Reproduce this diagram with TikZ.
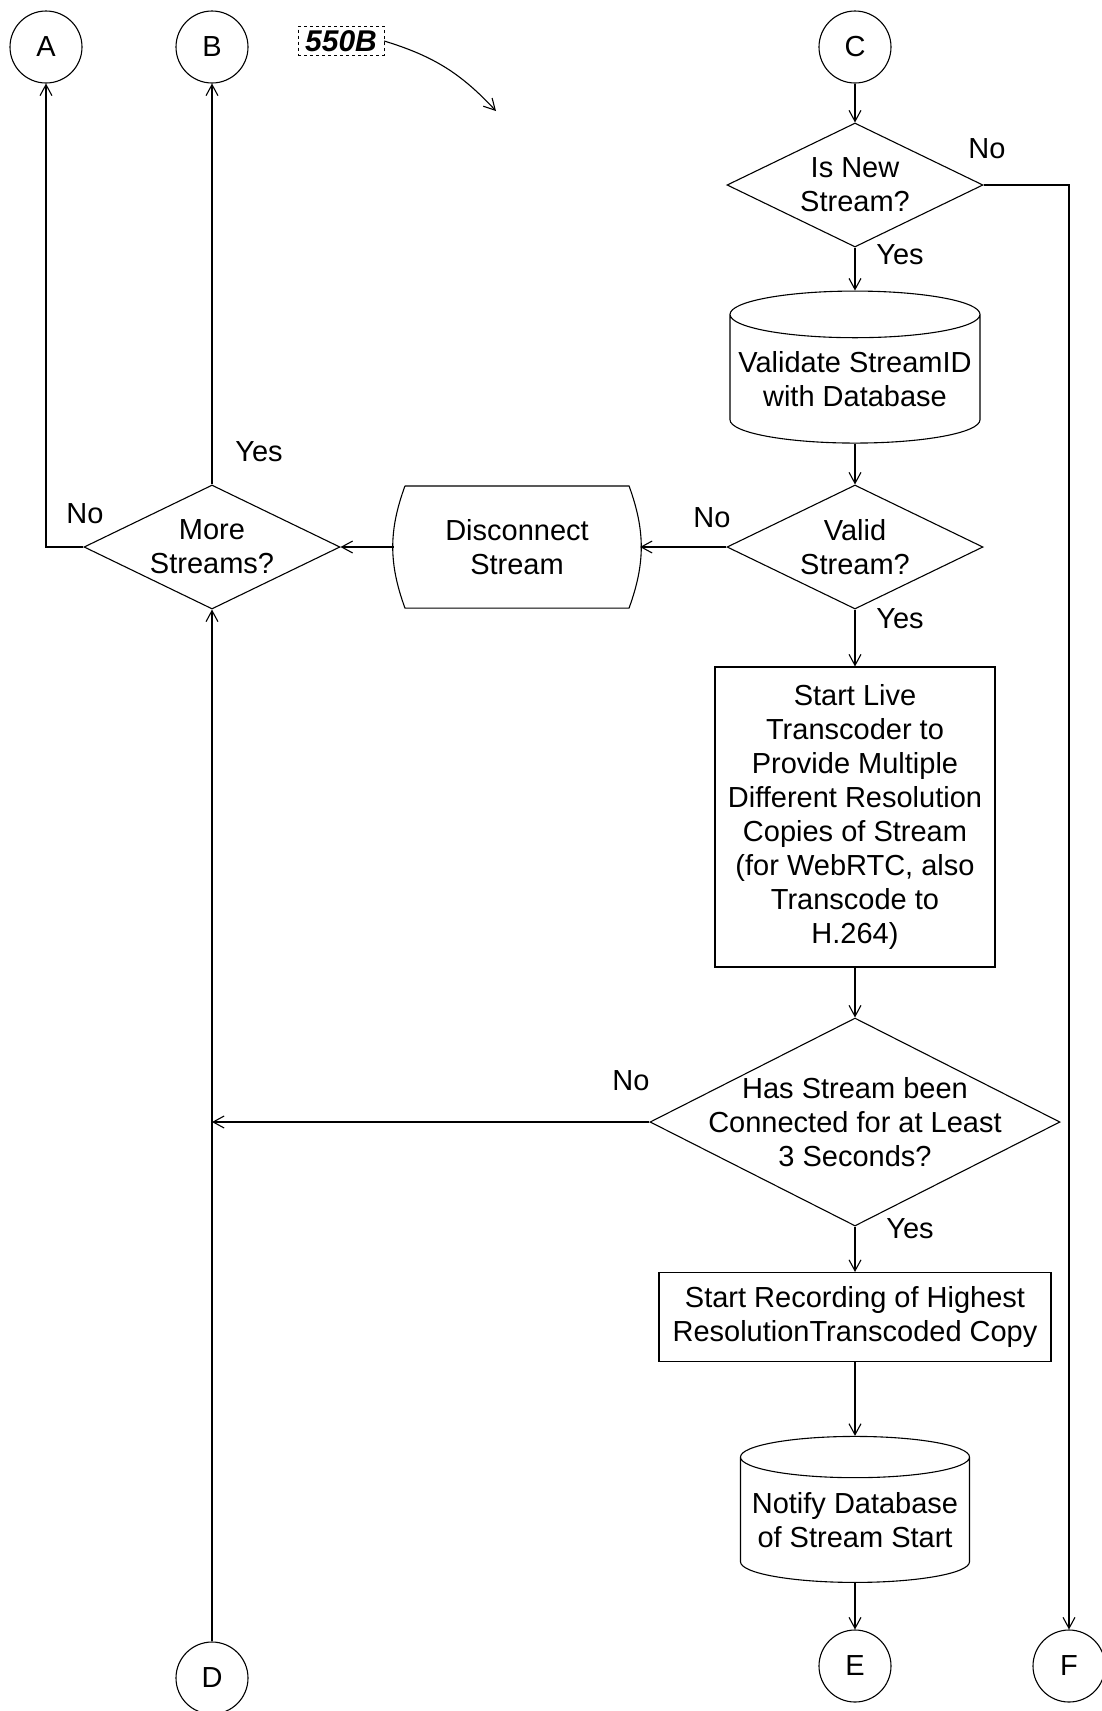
\documentclass[tikz,border=0pt]{standalone}
\usepackage{fontspec}
\setmainfont{Liberation Sans}
\usetikzlibrary{shapes.geometric,arrows.meta}

\begin{document}
\begin{tikzpicture}[x=1pt,y=-1pt,
  font=\fontsize{29}{34}\selectfont,
  line width=1.1pt,
  conn/.style={circle,draw,minimum size=72pt,inner sep=0pt},
  decision/.style={diamond,draw,aspect=2,inner sep=0pt,minimum width=256pt,minimum height=124pt,align=center},
  process/.style={rectangle,draw,align=center,inner sep=2pt},
  dbase/.style={cylinder,draw,shape border rotate=90,aspect=0.2,align=center,inner sep=0pt},
  flow/.style={-{Straight Barb[length=11pt,width=12pt]}}]
\useasboundingbox (0,0) rectangle (1102,1711);

% Connectors
\node[conn] (A) at (46,47) {A};
\node[conn] (B) at (212,47) {B};
\node[conn] (C) at (855,47) {C};
\node[conn] (D) at (212,1678) {D};
\node[conn] (E) at (855,1666) {E};
\node[conn] (F) at (1069,1666) {F};

% Figure label
\node[draw,dashed,line width=0.6pt,inner xsep=7pt,inner ysep=4pt,font=\fontsize{30}{34}\selectfont\bfseries\itshape] (fig) at (341,41) {550B};
\coordinate (figtip) at (496,111);
\draw[flow] (fig.east) to[bend left=15] (figtip);

% Right column
\node[decision] (isnew) at (855,185) {Is New\\Stream?};
\node[dbase,minimum width=250pt,minimum height=152pt] (validate) at (855,379) {Validate StreamID\\with Database};
\node[decision] (valid) at (855,547) {Valid\\Stream?};
\node[process,minimum width=280pt,minimum height=300pt] (live) at (855,817)
  {Start Live\\Transcoder to\\Provide Multiple\\Different Resolution\\Copies of Stream\\(for WebRTC, also\\Transcode to\\H.264)};
\node[decision,minimum width=410pt,minimum height=208pt,
  label={[align=center]center:Has Stream been\\Connected for at Least\\3 Seconds?}] (has) at (855,1122) {};
\node[process,minimum width=392pt,minimum height=89pt] (rec) at (855,1317)
  {Start Recording of Highest\\ResolutionTranscoded Copy};
\node[dbase,minimum width=229pt,minimum height=146pt] (notify) at (855,1520) {Notify Database\\of Stream Start};

% Left side
\node[minimum width=245pt,minimum height=121pt,align=center] (disc) at (517,547) {Disconnect\\Stream};
\draw ([xshift=11pt]disc.north west) -- ([xshift=-11pt]disc.north east)
  to[bend left=20] ([xshift=-11pt]disc.south east) -- ([xshift=11pt]disc.south west)
  to[bend left=20] ([xshift=11pt]disc.north west);
\node[decision] (more) at (212,547) {More\\Streams?};

% Arrows
\draw[flow] (C) -- (isnew);
\draw[flow] (isnew) -- (validate);
\draw[flow] (isnew.east) -| (F);
\draw[flow] (validate) -- (valid);
\draw[flow] (valid) -- (live);
\draw[flow] (valid.west) -- (disc.east);
\draw[flow] (disc.west) -- (more.east);
\draw[flow] (more.north) -- (B);
\draw[flow] (more.west) -| (A);
\draw[flow] (D) -- (more.south);
\draw[flow] (live) -- (has);
\draw[flow] (has.west) -- (has.west -| D);
\draw[flow] (has.south) -- (rec);
\draw[flow] (rec) -- (notify);
\draw[flow] (notify) -- (E);

% Yes / No
\node at (987,149) {No};
\node at (900,255) {Yes};
\node at (712,518) {No};
\node at (900,619) {Yes};
\node at (85,514) {No};
\node at (259,452) {Yes};
\node at (631,1081) {No};
\node at (910,1229) {Yes};
\end{tikzpicture}
\end{document}
